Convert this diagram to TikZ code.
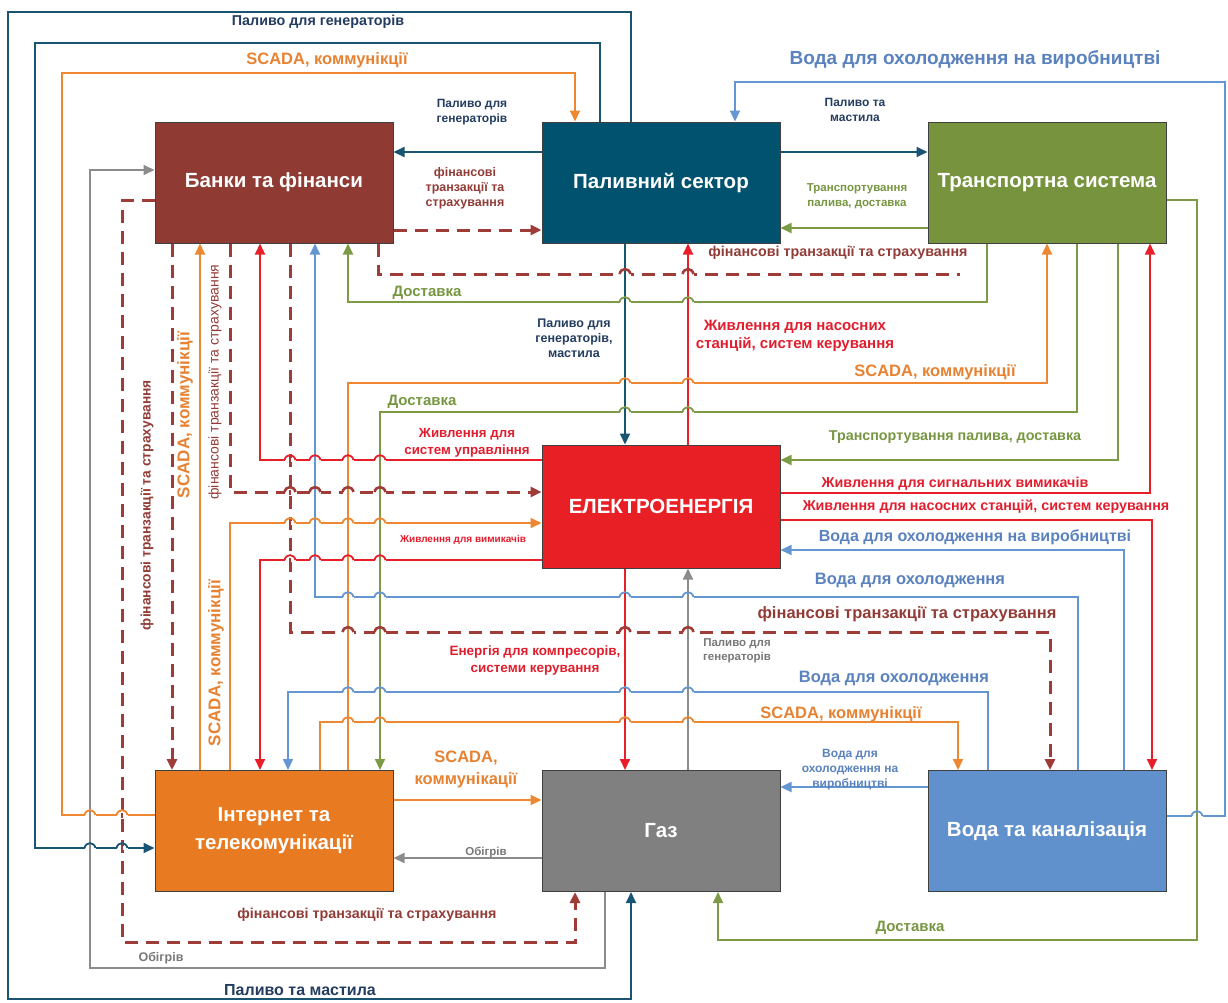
\documentclass[tikz,border=0pt]{standalone}
\usepackage{fontspec}
\setmainfont{Liberation Sans}
\usetikzlibrary{arrows.meta}
\definecolor{bankclr}{RGB}{143,59,52}
\definecolor{fuelclr}{RGB}{0,82,110}
\definecolor{transclr}{RGB}{119,147,61}
\definecolor{elecclr}{RGB}{232,32,38}
\definecolor{inetclr}{RGB}{232,122,34}
\definecolor{gasclr}{RGB}{128,128,128}
\definecolor{waterclr}{RGB}{96,145,204}
\definecolor{tealln}{RGB}{25,85,115}
\definecolor{orangeln}{RGB}{237,135,50}
\definecolor{redln}{RGB}{232,30,40}
\definecolor{blueln}{RGB}{100,150,210}
\definecolor{greenln}{RGB}{125,155,70}
\definecolor{grayln}{RGB}{140,140,140}
\definecolor{finln}{RGB}{160,60,55}
\definecolor{navytxt}{RGB}{35,60,95}
\definecolor{browntxt}{RGB}{145,60,55}
\definecolor{greentxt}{RGB}{119,150,65}
\definecolor{redtxt}{RGB}{225,30,45}
\definecolor{orangetxt}{RGB}{230,130,50}
\definecolor{bluetxt}{RGB}{90,130,190}
\definecolor{graytxt}{RGB}{120,120,120}
% hop of a horizontal line over a vertical one: x, y, hline colour, vline colour, hline width
\newcommand\hop[5]{%
  \fill[white] (#1-5.5,#2-2) rectangle (#1+5.5,#2+2);
  \draw[line width=1.8pt,#4] (#1,#2-2.5) -- (#1,#2+2.5);
  \draw[line width=#5,#3] (#1-5.5,#2) .. controls (#1-4,#2-6.5) and (#1+4,#2-6.5) .. (#1+5.5,#2);
}
\tikzset{
    %Define standard arrow tip
    >={Triangle[length=11pt,width=10pt]},
    %Define style for sector boxes
    sector/.style={
           rectangle,
           draw=black!75, line width=1pt,
           minimum width=238pt,
           minimum height=121pt,
           inner sep=0pt,
           text=white,
           font=\fontsize{20.5}{28}\selectfont\bfseries,
           align=center},
    % Define label styles
    lblL/.style={font=\fontsize{16.5}{19}\selectfont\bfseries, align=center, inner sep=0pt},
    lblM/.style={font=\fontsize{14.3}{17}\selectfont\bfseries, align=center, inner sep=0pt},
    lblS/.style={font=\fontsize{12}{15}\selectfont\bfseries, align=center, inner sep=0pt},
    % Define connector styles
    flow/.style={line width=1.8pt, ->},
    teal/.style={flow, draw=tealln},
    orange/.style={flow, draw=orangeln},
    red/.style={flow, draw=redln},
    blue/.style={flow, draw=blueln},
    green/.style={flow, draw=greenln},
    gray/.style={flow, draw=grayln},
    fin/.style={line width=3pt, draw=finln, dash pattern=on 13pt off 8pt, ->}
}
\begin{document}
\begin{tikzpicture}[x=1pt,y=-1pt]
\useasboundingbox (0,0) rectangle (1228,1002);
 %sectors
\node[sector, fill=bankclr](banks) at (274,182.5){Банки та фінанси};
\node[sector, fill=fuelclr](fuel) at (661,182.5){Паливний сектор};
\node[sector, fill=transclr](trans) at (1047,182.5){Транспортна система};
\node[sector, fill=elecclr, minimum height=123pt](elec) at (661,506.5){ЕЛЕКТРОЕНЕРГІЯ};
\node[sector, fill=inetclr](inet) at (274,831){Інтернет та\\телекомунікації};
\node[sector, fill=gasclr](gas) at (661,831){Газ};
\node[sector, fill=waterclr](water) at (1047,831){Вода та каналізація};
 %fuel
\draw[teal] (631,0 |- fuel.north) |- (8,12) |- (631,999) -- (631,0 |- gas.south);
\draw[teal] (600,0 |- fuel.north) |- (35,43) |- (0,848 -| inet.west);
\draw[teal] (0,152 -| fuel.west) -- (0,152 -| banks.east);
\draw[teal] (0,152 -| fuel.east) -- (0,152 -| trans.west);
\draw[teal] (625,0 |- fuel.south) -- (625,0 |- elec.north);
 %telecom
\draw[orange] (0,815 -| inet.west) -| (62,73) -| (575,0 |- fuel.north);
\draw[orange] (200,0 |- inet.north) -- (200,0 |- banks.south);
\draw[orange] (230,0 |- inet.north) |- (0,523 -| elec.west);
\draw[orange] (320,0 |- inet.north) |- (958,722) -- (958,0 |- water.north);
\draw[orange] (348,0 |- inet.north) |- (1047,383) -- (1047,0 |- trans.south);
\draw[orange] (0,800 -| inet.east) -- (0,800 -| gas.west);
 %electricity
\draw[red] (0,460 -| elec.west) -| (260,0 |- banks.south);
\draw[red] (0,560 -| elec.west) -| (260,0 |- inet.north);
\draw[red] (688,0 |- elec.north) -- (688,0 |- fuel.south);
\draw[red] (0,493 -| elec.east) -| (1150,0 |- trans.south);
\draw[red] (0,520 -| elec.east) -| (1152,0 |- water.north);
\draw[red] (625,0 |- elec.south) -- (625,0 |- gas.north);
 %water
\draw[blue] (0,816 -| water.east) -| (1225,82) -| (735,0 |- fuel.north);
\draw[blue] (1124,0 |- water.north) |- (0,550 -| elec.east);
\draw[blue] (1078,0 |- water.north) |- (315,597) -- (315,0 |- banks.south);
\draw[blue] (988,0 |- water.north) |- (288,692) -- (288,0 |- inet.north);
\draw[blue] (0,787 -| water.west) -- (0,787 -| gas.east);
 %transport
\draw[green] (0,228 -| trans.west) -- (0,228 -| fuel.east);
\draw[green] (987,0 |- trans.south) |- (348,302) -- (348,0 |- banks.south);
\draw[green] (1077,0 |- trans.south) |- (380,412) -- (380,0 |- inet.north);
\draw[green] (1118,0 |- trans.south) |- (0,460 -| elec.east);
\draw[green] (0,200 -| trans.east) -| (1197,940) -| (718,0 |- gas.south);
 %gas
\draw[gray] (605,0 |- gas.south) |- (90,968) |- (0,170 -| banks.west);
\draw[gray] (688,0 |- gas.north) -- (688,0 |- elec.south);
\draw[gray] (0,858 -| gas.west) -- (0,858 -| inet.east);
 %finance
\draw[fin] (0,200 -| banks.west) -| (122,942) -| (575,0 |- gas.south);
\draw[fin] (0,230 -| banks.east) -- (0,230 -| fuel.west);
\draw[fin] (172,0 |- banks.south) -- (172,0 |- inet.north);
\draw[fin] (230,0 |- banks.south) |- (0,492 -| elec.west);
\draw[fin] (290,0 |- banks.south) |- (1050,632) -- (1050,0 |- water.north);
\draw[fin, -] (378,0 |- banks.south) |- (960,274);
 %line hops
\foreach \y/\c/\w in {460/redln/1.8pt, 492/finln/2.6pt, 523/orangeln/1.8pt, 560/redln/1.8pt}
  \foreach \x/\v in {290/finln, 315/blueln, 348/orangeln, 380/greenln}
    \hop{\x}{\y}{\c}{\v}{\w};
\foreach \y/\c/\w in {597/blueln/1.8pt, 632/finln/2.6pt, 692/blueln/1.8pt, 722/orangeln/1.8pt}
  \foreach \x/\v in {348/orangeln, 380/greenln, 625/redln, 688/grayln}
    \hop{\x}{\y}{\c}{\v}{\w};
\foreach \y/\c/\w in {274/finln/2.6pt, 302/greenln/1.8pt, 383/orangeln/1.8pt, 412/greenln/1.8pt}
  \foreach \x/\v in {625/tealln, 688/redln}
    \hop{\x}{\y}{\c}{\v}{\w};
\foreach \y/\c in {815/orangeln, 848/tealln}
  \foreach \x/\v in {90/grayln, 122/finln}
    \hop{\x}{\y}{\c}{\v}{1.8pt};
\hop{1197}{816}{blueln}{greenln}{1.8pt};
 %labels
\node[lblM, text=navytxt](l1) at (318,22){Паливо для генераторів};
\node[lblL, text=orangetxt](l2) at (327,60){SCADA, коммунікції};
\node[lblS, text=navytxt](l3) at (472,112){Паливо для\\генераторів};
\node[lblS, font=\fontsize{12.5}{15}\selectfont\bfseries, text=browntxt](l4) at (465,188){фінансові\\транзакції та\\страхування};
\node[lblS, text=navytxt](l5) at (855,110){Паливо та\\мастила};
\node[lblL, font=\fontsize{19}{22}\selectfont\bfseries, text=bluetxt](l6) at (975,60){Вода для охолодження на виробництві};
\node[lblS, font=\fontsize{11.5}{15}\selectfont\bfseries, text=greentxt](l7) at (857,196){Транспортування\\палива, доставка};
\node[lblM, text=browntxt](l8) at (838,253){фінансові транзакції та страхування};
\node[lblM, font=\fontsize{15}{17}\selectfont\bfseries, text=greentxt](l9) at (427,293){Доставка};
\node[lblS, font=\fontsize{12.5}{15}\selectfont\bfseries, text=navytxt](l10) at (574,338){Паливо для\\генераторів,\\мастила};
\node[lblM, font=\fontsize{15}{18}\selectfont\bfseries, text=redtxt](l11) at (795,336){Живлення для насосних\\станцій, систем керування};
\node[lblL, text=orangetxt](l12) at (935,372){SCADA, коммунікції};
\node[lblM, font=\fontsize{15}{17}\selectfont\bfseries, text=greentxt](l13) at (422,402){Доставка};
\node[lblM, font=\fontsize{13.3}{17}\selectfont\bfseries, text=redtxt](l14) at (467,443){Живлення для\\систем управління};
\node[lblM, text=greentxt](l15) at (955,437){Транспортування палива, доставка};
\node[lblM, text=redtxt](l16) at (955,484){Живлення для сигнальних вимикачів};
\node[lblM, text=redtxt](l17) at (986,507){Живлення для насосних станцій, систем керування};
\node[lblL, font=\fontsize{16}{19}\selectfont\bfseries, text=bluetxt](l18) at (975,537){Вода для охолодження на виробництві};
\node[lblS, font=\fontsize{10}{12}\selectfont\bfseries, text=redtxt](l19) at (463,540){Живлення для вимикачів};
\node[lblL, text=bluetxt](l20) at (910,580){Вода для охолодження};
\node[lblL, text=browntxt](l21) at (907,614){фінансові транзакції та страхування};
\node[lblM, font=\fontsize{13.5}{17}\selectfont\bfseries, text=redtxt](l22) at (535,660){Енергія для компресорів,\\системи керування};
\node[lblS, font=\fontsize{11.5}{14}\selectfont\bfseries, text=graytxt](l23) at (737,651){Паливо для\\генераторів};
\node[lblL, text=bluetxt](l24) at (894,678){Вода для охолодження};
\node[lblL, text=orangetxt](l25) at (841,714){SCADA, коммунікції};
\node[lblS, text=bluetxt](l26) at (850,770){Вода для\\охолодження на\\виробництві};
\node[lblL, font=\fontsize{16.5}{22}\selectfont\bfseries, text=orangetxt](l27) at (466,769){SCADA,\\коммунікації};
\node[lblS, font=\fontsize{11.5}{14}\selectfont\bfseries, text=graytxt](l28) at (486,852){Обігрів};
\node[lblM, text=browntxt](l29) at (367,915){фінансові транзакції та страхування};
\node[lblM, font=\fontsize{15}{17}\selectfont\bfseries, text=greentxt](l30) at (910,928){Доставка};
\node[lblS, font=\fontsize{12.5}{14}\selectfont\bfseries, text=graytxt](l31) at (161,958){Обігрів};
\node[lblL, font=\fontsize{16}{19}\selectfont\bfseries, text=navytxt](l32) at (300,990){Паливо та мастила};
\node[lblM, font=\fontsize{13.8}{16}\selectfont\bfseries, text=browntxt, rotate=90](l33) at (147,505){фінансові транзакції та страхування};
\node[lblL, font=\fontsize{17}{20}\selectfont\bfseries, text=orangetxt, rotate=90](l34) at (185,415){SCADA, коммунікції};
\node[lblM, font=\fontsize{14}{16}\selectfont, text=browntxt, rotate=90](l35) at (215,382){фінансові транзакції та страхування};
\node[lblL, font=\fontsize{17}{20}\selectfont\bfseries, text=orangetxt, rotate=90](l36) at (216,663){SCADA, коммунікції};
\end{tikzpicture}
\end{document}
